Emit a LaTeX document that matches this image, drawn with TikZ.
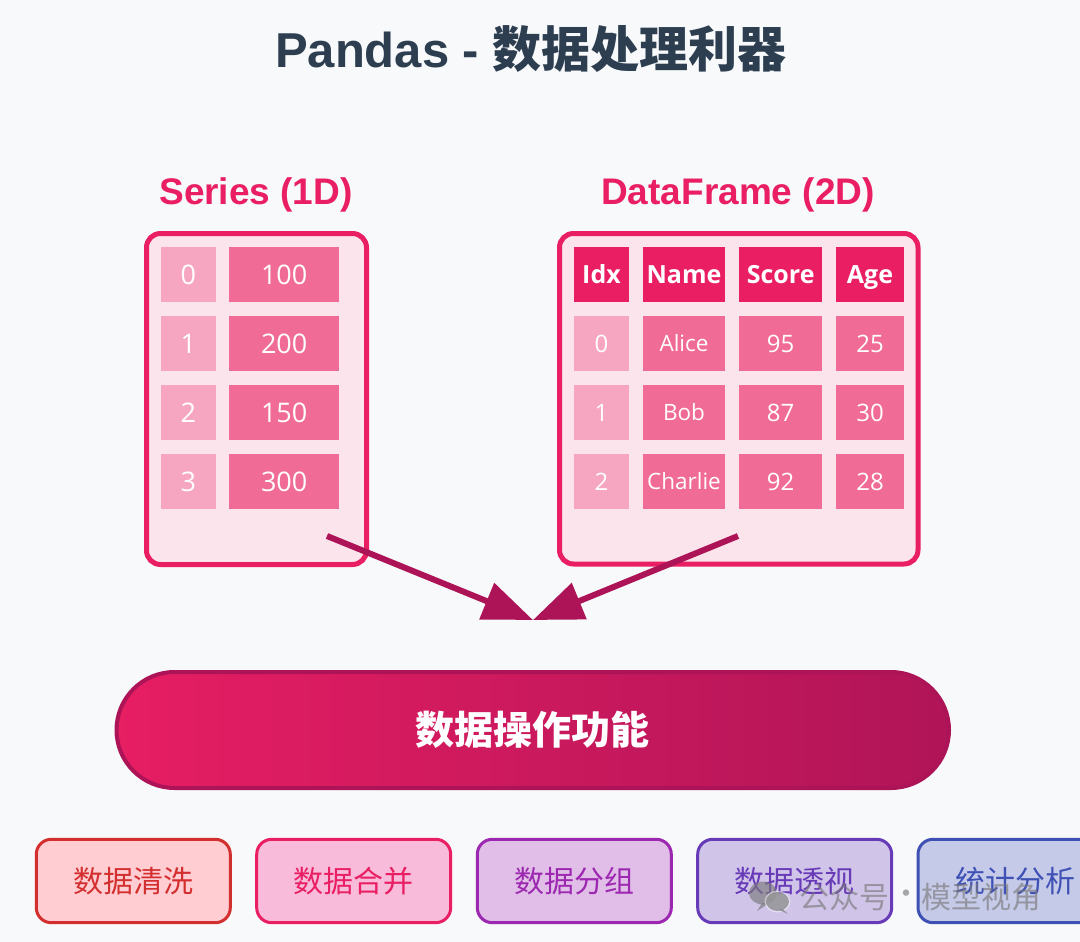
\documentclass[tikz,border=0pt]{standalone}
\usepackage{fontspec}
\setmainfont{Open Sans}
\newfontfamily\arialf{Liberation Sans}
\newfontfamily\cjk{Noto Sans CJK SC}
\usetikzlibrary{arrows.meta,shapes.misc}
\definecolor{bgc}{HTML}{F8F9FA}
\definecolor{titlec}{HTML}{2C3E50}
\definecolor{pinkc}{HTML}{E91E63}
\definecolor{darkpink}{HTML}{AD1457}
\definecolor{panelfill}{HTML}{FCE4EC}
\definecolor{idxfill}{HTML}{F6A6C1}
\definecolor{valfill}{HTML}{F06C96}
\definecolor{cA}{HTML}{D32F2F}\definecolor{fA}{HTML}{FFCDD2}
\definecolor{cB}{HTML}{E91E63}\definecolor{fB}{HTML}{F8BBD9}
\definecolor{cC}{HTML}{9C27B0}\definecolor{fC}{HTML}{E1BEE7}
\definecolor{cD}{HTML}{673AB7}\definecolor{fD}{HTML}{D1C4E9}
\definecolor{cE}{HTML}{3F51B5}\definecolor{fE}{HTML}{C5CAE9}
\definecolor{wmark}{HTML}{7A7A7A}
\begin{document}
\begin{tikzpicture}[x=1pt,y=-1pt,
  paneltitle/.style={anchor=base,inner sep=0pt,text=pinkc,font=\fontsize{37}{44}\selectfont\arialf\bfseries},
  panel/.style={draw=pinkc,line width=5pt,fill=panelfill,rounded corners=14pt,inner sep=0pt},
  cellbase/.style={rectangle,inner sep=0pt,minimum height=55pt,text=white,text depth=0pt},
  sidx/.style={cellbase,fill=idxfill,minimum width=55pt,text height=19.3pt,font=\fontsize{27}{30}\selectfont},
  sval/.style={cellbase,fill=valfill,minimum width=110pt,text height=19.3pt,font=\fontsize{27}{30}\selectfont},
  hcell/.style={cellbase,fill=pinkc,text height=17.9pt,font=\fontsize{25}{28}\selectfont\bfseries},
  didx/.style={cellbase,fill=idxfill,minimum width=55pt,text height=17.1pt,font=\fontsize{24}{28}\selectfont},
  dval/.style={cellbase,fill=valfill,text height=17.1pt,font=\fontsize{24}{28}\selectfont},
  dname/.style={cellbase,fill=valfill,minimum width=82.7pt,text height=15.9pt,font=\fontsize{22.5}{26}\selectfont},
  flow/.style={draw=darkpink,line width=6pt,-{Triangle[length=50pt,width=38pt]}},
  pillbox/.style={rounded rectangle,draw=darkpink,line width=4pt,left color=pinkc!96!darkpink,right color=darkpink!95!pinkc,
     minimum width=832.5pt,minimum height=116pt,inner sep=0pt,text=white,font=\fontsize{39}{44}\selectfont\cjk\bfseries},
  feat/.style={rectangle,rounded corners=15pt,line width=3pt,minimum width=194pt,minimum height=83.4pt,inner sep=0pt,
     font=\fontsize{30}{34}\selectfont\cjk},
]
\fill[bgc] (0,0) rectangle (1080,942);
\useasboundingbox (0,0) rectangle (1080,942);

% title
\node[anchor=base,inner sep=0pt,text=titlec] (title) at (531,67)
  {\fontsize{49}{56}\selectfont\arialf\bfseries Pandas - {\cjk\bfseries 数据处理利器}};

% panel titles
\node[paneltitle] (stitle) at (256,204) {Series (1D)};
\node[paneltitle] (dtitle) at (738,204) {DataFrame (2D)};

% panels
\node[panel,minimum width=220pt,minimum height=331pt] (series) at (256.5,399) {};
\node[panel,minimum width=358.5pt,minimum height=330.5pt] (frame) at (738.75,398.75) {};

% series cells
\node[sidx] (si0) at (188.3,274.5) {0};
\node[sval] (sv0) at (284.2,274.5) {100};
\node[sidx] (si1) at (188.3,343.5) {1};
\node[sval] (sv1) at (284.2,343.5) {200};
\node[sidx] (si2) at (188.3,412.5) {2};
\node[sval] (sv2) at (284.2,412.5) {150};
\node[sidx] (si3) at (188.3,481.5) {3};
\node[sval] (sv3) at (284.2,481.5) {300};

% dataframe header
\node[hcell,minimum width=55pt] (hidx) at (601.5,274.5) {Idx};
\node[hcell,minimum width=82.7pt] (hname) at (684,274.5) {Name};
\node[hcell,minimum width=82.7pt] (hscore) at (780.7,274.5) {Score};
\node[hcell,minimum width=68.6pt] (hage) at (870,274.5) {Age};
% rows
\node[didx] (d0) at (601.5,343.5) {0};
\node[dname] (n0) at (684,343.5) {Alice};
\node[dval,minimum width=82.7pt] (sc0) at (780.7,343.5) {95};
\node[dval,minimum width=68.6pt] (a0) at (870,343.5) {25};
\node[didx] (d1) at (601.5,412.5) {1};
\node[dname] (n1) at (684,412.5) {Bob};
\node[dval,minimum width=82.7pt] (sc1) at (780.7,412.5) {87};
\node[dval,minimum width=68.6pt] (a1) at (870,412.5) {30};
\node[didx] (d2) at (601.5,481.5) {2};
\node[dname] (n2) at (684,481.5) {Charlie};
\node[dval,minimum width=82.7pt] (sc2) at (780.7,481.5) {92};
\node[dval,minimum width=68.6pt] (a2) at (870,481.5) {28};

% arrows
\coordinate (sfrom) at (327,536);
\coordinate (dfrom) at (738,536);
\coordinate (meet) at (533,620);
\draw[flow] (sfrom) -- (meet);
\draw[flow] (dfrom) -- (meet);

% operations pill
\node[pillbox] (ops) at (532.75,730) {数据操作功能};

% feature boxes
\node[feat,draw=cA,fill=fA,text=cA] (fa) at (133.3,881) {数据清洗};
\node[feat,draw=cB,fill=fB,text=cB] (fb) at (353.7,881) {数据合并};
\node[feat,draw=cC,fill=fC,text=cC] (fc) at (574.3,881) {数据分组};
\node[feat,draw=cD,fill=fD,text=cD] (fd) at (794.7,881) {数据透视};
\node[feat,draw=cE,fill=fE,text=cE] (fe) at (1015,881) {统计分析};

% watermark
\begin{scope}[opacity=0.65]
  \fill[wmark] (763,893) ellipse [x radius=14pt,y radius=11.5pt];
  \fill[wmark] (762,903) -- (757,911) -- (768,904) -- cycle;
  \fill[bgc,opacity=0.5] (777.5,901.5) ellipse [x radius=13pt,y radius=11pt];
  \fill[wmark] (777.5,901.5) ellipse [x radius=11.5pt,y radius=9.5pt];
  \fill[wmark] (783,909) -- (788,914) -- (779,910) -- cycle;
  \node[anchor=base west,inner sep=0pt,text=wmark,font=\fontsize{30}{34}\selectfont\cjk] (wm1) at (799,908) {公众号};
  \node[inner sep=0pt,text=wmark,font=\fontsize{30}{34}\selectfont\cjk] (wmdot) at (906,897) {·};
  \node[anchor=base west,inner sep=0pt,text=wmark,font=\fontsize{30}{34}\selectfont\cjk] (wm2) at (921,908) {模型视角};
\end{scope}
\end{tikzpicture}
\end{document}
